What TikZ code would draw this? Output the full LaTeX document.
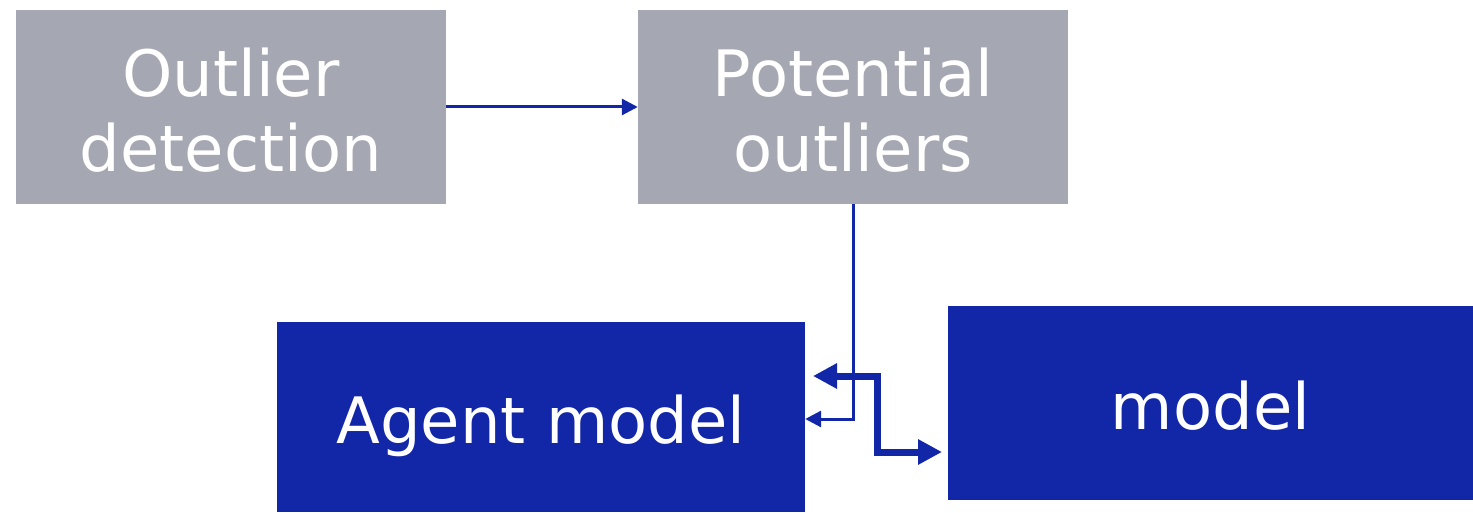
\documentclass[tikz,border=0pt]{standalone}
\usepackage{fontspec}
\setmainfont{DejaVu Sans}
\usetikzlibrary{arrows.meta}
\definecolor{boxgray}{HTML}{A5A7B2}
\definecolor{boxblue}{HTML}{1226A8}
\tikzset{
  boxtext/.style={text=white, inner sep=0pt, align=center,
    font=\fontsize{64}{75}\selectfont},
  graybox/.style={fill=boxgray, draw=none, inner sep=0pt},
  bluebox/.style={fill=boxblue, draw=none, inner sep=0pt},
  thinarrow/.style={draw=boxblue, line width=3pt, -{Triangle[length=16pt,width=16pt]}},
  thickarrow/.style={draw=boxblue, line width=7pt,
    {Triangle[length=24pt,width=24pt]}-{Triangle[length=24pt,width=24pt]}}
}
\begin{document}
\begin{tikzpicture}[x=1pt,y=-1pt]
  \useasboundingbox (0,0) rectangle (1473,513);
  % boxes
  \node[graybox, minimum width=430pt, minimum height=194pt] (detect) at (231,107) {};
  \node[graybox, minimum width=430pt, minimum height=194pt] (potential) at (853,107) {};
  \node[bluebox, minimum width=528pt, minimum height=190pt] (agent) at (541,417) {};
  \node[bluebox, minimum width=525pt, minimum height=194pt] (model) at (1210.5,403) {};
  % labels
  \node[boxtext, yshift=-3pt] (detecttext) at (detect.center) {Outlier\\detection};
  \node[boxtext, yshift=-3pt] (potentialtext) at (potential.center) {Potential\\outliers};
  \node[boxtext, yshift=-9pt] (agenttext) at (agent.center) {Agent model};
  \node[boxtext, yshift=-3pt] (modeltext) at (model.center) {model};

  % connectors
  \draw[thinarrow] (detect.east) -- (potential.west);
  \coordinate (bend) at (potential.south |- 0,419);
  \draw[thinarrow] (potential.south) -- (bend) -- (agent.east |- bend);

  \coordinate (aout) at (813,376);
  \coordinate (min) at (942,452);
  \draw[thickarrow] (aout) -- (877,376) -- (877,452) -- (min);
\end{tikzpicture}
\end{document}
